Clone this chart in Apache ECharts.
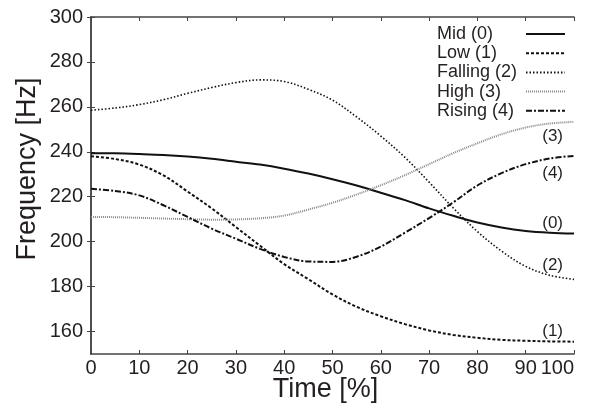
<!DOCTYPE html>
<html>
<head>
<meta charset="utf-8">
<script src="https://cdn.jsdelivr.net/npm/echarts@6/dist/echarts.min.js"></script>
<style>
html,body{margin:0;padding:0;background:#fff;}
#chart{width:600px;height:403px;}
</style>
</head>
<body>
<div id="chart"></div>
<script>
const timePct = [0,5,10,15,20,25,30,35,40,45,50,55,60,65,70,75,80,85,90,95,100];
const seriesNames = ['Mid (0)','Low (1)','Falling (2)','High (3)','Rising (4)'];
const endTags = ['(0)','(1)','(2)','(3)','(4)'];
const midVals     = [239.4,239.3,239.0,238.6,237.9,236.9,235.6,234.3,232.5,230.3,227.8,225.0,221.8,218.5,214.8,211.5,208.5,206.3,204.8,204.0,203.6];
const lowVals     = [238.0,236.8,234.3,229.5,222.3,214.8,206.5,198.2,190.0,183.3,176.5,171.0,166.8,163.3,160.5,158.5,157.2,156.3,155.9,155.6,155.5];
const fallingVals = [258.5,259.5,261.0,263.2,266.0,268.6,270.8,272.0,271.3,267.8,263.0,255.5,247.0,237.5,226.5,215.0,204.5,195.8,189.0,185.0,183.2];
const highVals    = [211.0,210.9,210.6,210.3,210.0,209.8,209.9,210.4,211.6,214.3,217.3,221.0,225.1,229.6,234.5,239.4,243.8,247.8,250.8,252.6,253.3];
const risingVals  = [223.5,222.6,220.6,216.2,211.0,205.8,201.3,196.8,193.2,191.2,191.0,193.3,197.8,204.0,210.5,217.5,225.0,230.5,234.5,237.0,238.2];
const yTicks = [160,180,200,220,240,260,280,300];

const allVals = [midVals, lowVals, fallingVals, highVals, risingVals];
const styles = [
  {color:'#111', width:2, type:'solid'},
  {color:'#111', width:2, type:[3,2]},
  {color:'#111', width:1.6, type:[1.5,2]},
  {color:'#8a8a8a', width:2, type:[1,1]},
  {color:'#111', width:2, type:[6,2,2,2]}
];
const labelOffsets = [-10.5, -10.5, -14, 14.5, 17];

const FONT = '"Liberation Sans", Arial, Helvetica, sans-serif';
const TXT = '#231f20';
const AX = '#444';

const series = allVals.map((vals, i) => ({
  name: seriesNames[i],
  type: 'line',
  xAxisIndex: 0, yAxisIndex: 0,
  data: timePct.map((t, j) => [t, vals[j]]),
  symbol: 'none',
  smooth: 0.35,
  color: styles[i].color,
  lineStyle: {color: styles[i].color, width: styles[i].width, type: styles[i].type},
  endLabel: {
    show: true,
    formatter: endTags[i],
    align: 'right',
    verticalAlign: 'middle',
    distance: 0,
    offset: [-11, labelOffsets[i]],
    fontFamily: FONT, fontSize: 17, color: TXT
  },
  z: 3
}));

const chart = echarts.init(document.getElementById('chart'), null, {renderer:'canvas'});
chart.setOption({
  animation: false,
  backgroundColor: '#fff',
  grid: {left: 91, right: 26, top: 17, bottom: 49, outerBoundsMode: 'none', containLabel: false},
  legend: {
    orient: 'vertical',
    left: 432, top: 20,
    align: 'right',
    itemWidth: 39, itemHeight: 14, itemGap: 1.2,
    itemStyle: {color: 'rgba(0,0,0,0)', borderWidth: 0, opacity: 0},
    formatter: '{a|{name}}',
    textStyle: {
      fontFamily: FONT, fontSize: 18, color: TXT, lineHeight: 17.5,
      rich: {a: {width: 84, align: 'left', fontFamily: FONT, fontSize: 18, color: TXT, lineHeight: 17.5}}
    },
    data: seriesNames,
    selectedMode: false
  },
  xAxis: [{
    type: 'value', min: 0, max: 100, interval: 10, position: 'bottom',
    name: 'Time [%]', nameLocation: 'middle', nameGap: 22, nameMoveOverlap: false,
    nameTextStyle: {fontFamily: FONT, fontSize: 27, color: TXT, padding: [0, 14, 0, 0]},
    axisLine: {show: true, lineStyle: {color: AX, width: 1.5}},
    axisTick: {show: true, inside: true, length: 4, lineStyle: {color: AX, width: 1}},
    axisLabel: {fontFamily: FONT, fontSize: 20, color: TXT, margin: 4, alignMaxLabel: 'right'},
    splitLine: {show: false}
  }, {
    type: 'value', min: 0, max: 100, interval: 10, position: 'top',
    axisLine: {show: true, lineStyle: {color: AX, width: 1.5}},
    axisTick: {show: true, inside: true, length: 4, lineStyle: {color: AX, width: 1}},
    axisLabel: {show: false},
    splitLine: {show: false}
  }],
  yAxis: [{
    type: 'value', min: 150, max: 300, position: 'left',
    name: 'Frequency [Hz]', nameLocation: 'middle', nameGap: 50, nameMoveOverlap: false,
    nameTextStyle: {fontFamily: FONT, fontSize: 27, color: TXT, padding: [0, 0, 0, 33]},
    axisLine: {show: true, lineStyle: {color: AX, width: 1.5}},
    axisTick: {show: true, inside: true, length: 4, customValues: yTicks, lineStyle: {color: AX, width: 1}},
    axisLabel: {fontFamily: FONT, fontSize: 20, color: TXT, margin: 8, customValues: yTicks},
    splitLine: {show: false}
  }, {
    type: 'value', min: 150, max: 300, position: 'right',
    axisLine: {show: true, lineStyle: {color: AX, width: 1.5}},
    axisTick: {show: true, inside: true, length: 4, customValues: yTicks, lineStyle: {color: AX, width: 1}},
    axisLabel: {show: false},
    splitLine: {show: false}
  }],
  series: series
});
</script>
</body>
</html>
